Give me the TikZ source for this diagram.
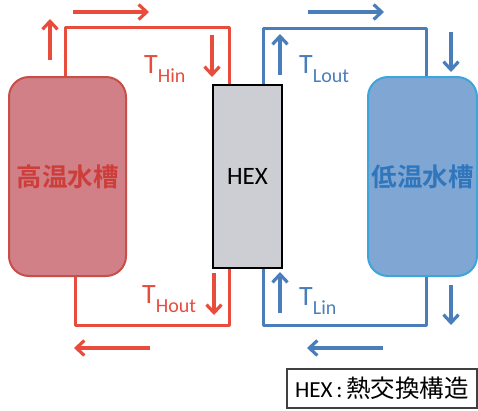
\documentclass[tikz,border=0pt]{standalone}
\usepackage{fontspec}
\setmainfont{Carlito}
\newfontfamily\jp{Noto Sans CJK JP}
\newfontfamily\jpb{Noto Sans CJK JP Bold}
\usetikzlibrary{arrows.meta}
\definecolor{rline}{RGB}{232,76,61}
\definecolor{rfill}{RGB}{208,128,134}
\definecolor{rborder}{RGB}{200,78,72}
\definecolor{rtext}{RGB}{205,62,58}
\definecolor{bline}{RGB}{74,126,187}
\definecolor{bfill}{RGB}{128,167,212}
\definecolor{bborder}{RGB}{60,165,220}
\definecolor{btext}{RGB}{48,118,188}
\definecolor{hexfill}{RGB}{205,206,212}
\tikzset{
  tank/.style={draw, line width=2pt, rounded corners=20pt, minimum width=117pt, minimum height=199pt, inner sep=0pt},
  rpipe/.style={draw=rline, line width=3pt, line join=round},
  bpipe/.style={draw=bline, line width=3pt, line join=round},
  rarr/.style={rline, line width=3.2pt, -{Straight Barb[length=8pt,width=15pt]}},
  barr/.style={bline, line width=3.2pt, -{Straight Barb[length=8pt,width=15pt]}},
  tlabel/.style={anchor=base west, inner sep=0pt},
}
\newcommand{\Tlab}[1]{{\fontsize{28}{28}\selectfont T}\raisebox{-9pt}{\fontsize{20}{20}\selectfont #1}}
\begin{document}
\begin{tikzpicture}[x=1pt,y=-1pt]
\useasboundingbox (0,0) rectangle (478,410);
% nodes
\node[tank, fill=rfill, draw=rborder, text=rtext] (rt) at (67.5,176.5) {\jpb\fontsize{25.5}{25.5}\selectfont 高温水槽};
\node[tank, minimum width=109pt, fill=bfill, draw=bborder, text=btext] (bt) at (422.5,176.5) {\jpb\fontsize{25.5}{25.5}\selectfont 低温水槽};
\node[draw=black, line width=2pt, fill=hexfill, minimum width=69pt, minimum height=183pt, inner sep=0pt] (hex) at (247.5,176.5) {\fontsize{25}{25}\selectfont HEX};
\node[draw=black!75, line width=1.2pt, minimum width=190pt, minimum height=39pt, inner sep=0pt] (leg) at (382,388.5) {\fontsize{23}{23}\selectfont HEX\,:\,{\jp\fontsize{24.5}{24.5}\selectfont 熱交換構造}};
% pipe corners
\coordinate (rup) at (65,27);
\coordinate (hin) at (229,27);
\coordinate (hout) at (229,325);
\coordinate (rdn) at (75,325);
\coordinate (lo) at (263,28);
\coordinate (bin) at (426,28);
\coordinate (li) at (263,325);
\coordinate (bout) at (426,325);
% pipes
\draw[rpipe] (rup |- rt.north) -- (rup) -- (hin) -- (hin |- hex.north);
\draw[rpipe] (hout |- hex.south) -- (hout) -- (rdn) -- (rdn |- rt.south);
\draw[bpipe] (lo |- hex.north) -- (lo) -- (bin) -- (bin |- bt.north);
\draw[bpipe] (li |- hex.south) -- (li) -- (bout) -- (bout |- bt.south);
% flow arrows
\coordinate (a1s) at (50,60);  \coordinate (a1e) at (50,19);
\coordinate (a2s) at (73,12);  \coordinate (a2e) at (149,12);
\coordinate (a3s) at (212,35); \coordinate (a3e) at (212,77);
\coordinate (a4s) at (214,273); \coordinate (a4e) at (214,315);
\coordinate (a5s) at (150,348); \coordinate (a5e) at (74,348);
\coordinate (b1s) at (280,75); \coordinate (b1e) at (280,34);
\coordinate (b2s) at (308,12); \coordinate (b2e) at (384,12);
\coordinate (b3s) at (451,32); \coordinate (b3e) at (451,72);
\coordinate (b4s) at (280,313); \coordinate (b4e) at (280,272);
\coordinate (b5s) at (451,285); \coordinate (b5e) at (451,325);
\coordinate (b6s) at (383,348); \coordinate (b6e) at (307,348);
\draw[rarr] (a1s) -- (a1e);
\draw[rarr] (a2s) -- (a2e);
\draw[rarr] (a3s) -- (a3e);
\draw[rarr] (a4s) -- (a4e);
\draw[rarr] (a5s) -- (a5e);
\draw[barr] (b1s) -- (b1e);
\draw[barr] (b2s) -- (b2e);
\draw[barr] (b3s) -- (b3e);
\draw[barr] (b4s) -- (b4e);
\draw[barr] (b5s) -- (b5e);
\draw[barr] (b6s) -- (b6e);
% labels
\node[tlabel, text=rline] (thin) at (144,73) {\Tlab{Hin}};
\node[tlabel, text=rline] (thout) at (142,303) {\Tlab{Hout}};
\node[tlabel, text=bline] (tlout) at (299,73) {\Tlab{Lout}};
\node[tlabel, text=bline] (tlin) at (299,305) {\Tlab{Lin}};
\end{tikzpicture}
\end{document}
